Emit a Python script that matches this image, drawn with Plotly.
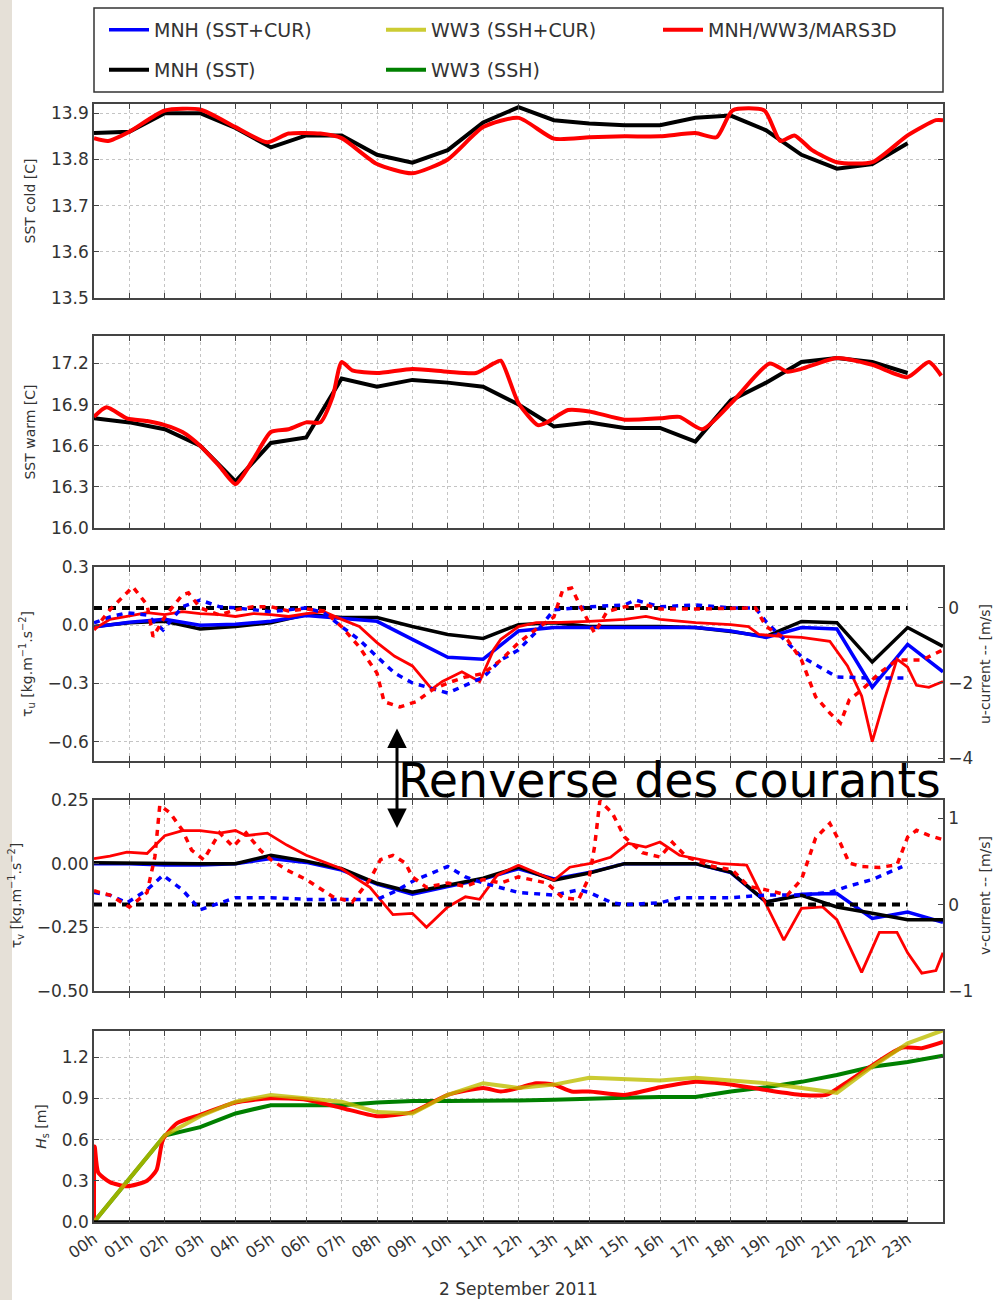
import plotly.graph_objects as go

# ------------------------------------------------------------------
# Time axis (hours of 2 September 2011)
# ------------------------------------------------------------------
hour_ticks = [0, 1, 2, 3, 4, 5, 6, 7, 8, 9, 10, 11, 12, 13, 14, 15, 16, 17, 18, 19, 20, 21, 22, 23]
hour_labels = ["00h", "01h", "02h", "03h", "04h", "05h", "06h", "07h", "08h", "09h", "10h", "11h",
               "12h", "13h", "14h", "15h", "16h", "17h", "18h", "19h", "20h", "21h", "22h", "23h"]
hours_23 = [0, 1, 2, 3, 4, 5, 6, 7, 8, 9, 10, 11, 12, 13, 14, 15, 16, 17, 18, 19, 20, 21, 22, 23]
hours_24 = [0, 1, 2, 3, 4, 5, 6, 7, 8, 9, 10, 11, 12, 13, 14, 15, 16, 17, 18, 19, 20, 21, 22, 23, 24]

# ------------------------------------------------------------------
# SST cold [C]
# ------------------------------------------------------------------
cold_mnh_sst = [13.857, 13.86, 13.90, 13.90, 13.868, 13.826, 13.852, 13.852, 13.81, 13.793, 13.82, 13.88,
                13.913, 13.885, 13.878, 13.874, 13.874, 13.89, 13.895, 13.863, 13.81, 13.78, 13.79, 13.835]
cold_coupled_h = [0, 0.4, 1, 2, 3, 4, 4.9, 5.5, 6.4, 7, 8, 9, 10, 11, 12, 13, 14, 15, 16, 17, 17.6, 18.05,
                  18.95, 19.4, 19.8, 20.3, 21, 22, 23, 23.8, 24]
cold_coupled = [13.846, 13.84, 13.86, 13.906, 13.908, 13.87, 13.837, 13.856, 13.856, 13.846, 13.79, 13.77,
                13.80, 13.87, 13.89, 13.845, 13.848, 13.85, 13.85, 13.857, 13.848, 13.906, 13.906, 13.84,
                13.852, 13.82, 13.794, 13.794, 13.852, 13.885, 13.885]

# ------------------------------------------------------------------
# SST warm [C]
# ------------------------------------------------------------------
warm_mnh_sst = [16.80, 16.77, 16.72, 16.60, 16.34, 16.62, 16.66, 17.09, 17.03, 17.08, 17.06, 17.03,
                16.90, 16.74, 16.77, 16.73, 16.73, 16.63, 16.93, 17.06, 17.21, 17.24, 17.21, 17.13]
warm_coupled_h = [0, 0.35, 0.93, 1.5, 2, 2.5, 3, 3.55, 4, 4.5, 5, 5.5, 6, 6.4, 6.75, 7, 7.3, 8, 9, 10, 10.8,
                  11.3, 11.5, 12, 12.55, 12.8, 13.4, 14, 15, 16, 16.55, 17.2, 18.05, 19.1, 19.6, 20, 21,
                  22, 23, 23.6, 23.95]
warm_coupled = [16.81, 16.88, 16.80, 16.78, 16.75, 16.70, 16.60, 16.45, 16.32, 16.50, 16.70, 16.72, 16.77,
                16.77, 16.96, 17.21, 17.15, 17.13, 17.16, 17.14, 17.13, 17.20, 17.22, 16.91, 16.75, 16.77,
                16.86, 16.85, 16.79, 16.80, 16.81, 16.72, 16.92, 17.20, 17.14, 17.16, 17.24, 17.19, 17.10,
                17.21, 17.11]

# ------------------------------------------------------------------
# Zonal wind stress tau_u [kg.m-1.s-2] and u-current [m/s]
# ------------------------------------------------------------------
tau_u_mnh_sst = [-0.007, 0.013, 0.02, -0.02, -0.007, 0.013, 0.055, 0.04, 0.04, -0.007, -0.048, -0.068, 0.003,
                 0.013, -0.007, -0.007, -0.007, -0.012, -0.032, -0.058, 0.019, 0.013, -0.19, -0.012, -0.109]
tau_u_mnh_cur = [-0.01, 0.015, 0.03, 0.0, 0.005, 0.02, 0.05, 0.035, 0.02, -0.073, -0.165, -0.175, -0.03,
                 -0.012, -0.012, -0.012, -0.012, -0.012, -0.03, -0.063, -0.012, -0.02, -0.32, -0.099, -0.24]
tau_u_coupled_h = [0, 0.45, 0.93, 1.5, 2, 2.5, 3, 3.55, 4, 4.5, 5, 5.5, 6, 6.5, 7, 7.5, 8, 8.5, 9, 9.55, 9.85,
                   10.4, 10.9, 11.3, 11.5, 12, 12.5, 13, 14, 15, 15.6, 16, 17, 18, 18.5, 18.8, 19.4, 20,
                   20.8, 21.3, 21.7, 22, 22.35, 22.7, 23, 23.25, 23.6, 24]
tau_u_coupled = [-0.02, 0.03, 0.045, 0.065, 0.055, 0.07, 0.06, 0.055, 0.045, 0.06, 0.055, 0.045, 0.06, 0.07,
                 0.03, -0.007, -0.09, -0.16, -0.21, -0.33, -0.29, -0.24, -0.29, -0.125, -0.073, -0.007,
                 0.013, 0.013, 0.02, 0.03, 0.045, 0.03, 0.013, 0.003, -0.007, -0.048, -0.058, -0.063,
                 -0.083, -0.21, -0.365, -0.60, -0.38, -0.175, -0.216, -0.31, -0.32, -0.29]

ucur_mnh_h = [0, 0.45, 0.93, 1.5, 1.95, 2.5, 3, 3.55, 4, 5, 6, 6.5, 7, 7.5, 8, 8.5, 9, 10, 11, 11.5, 12,
              12.55, 13, 14, 15, 15.3, 16, 17, 18, 18.7, 19, 20, 21, 22, 23]
ucur_mnh = [-0.4, -0.24, -0.13, -0.19, -0.59, 0.03, 0.21, 0.03, 0.0, -0.1, 0.0, -0.13, -0.5, -0.85, -1.3,
            -1.74, -2.0, -2.27, -1.85, -1.39, -1.12, -0.59, -0.05, 0.03, 0.08, 0.21, 0.03, 0.08, 0.0, 0.0,
            -0.37, -1.3, -1.84, -1.87, -1.87]
ucur_coupled_h = [0, 0.45, 1.1, 1.5, 1.67, 2, 2.5, 2.67, 3, 3.55, 4, 4.5, 5, 5.5, 6, 6.5, 7, 7.5, 8, 8.2,
                  8.65, 9.1, 9.55, 10, 10.5, 11, 11.5, 12, 12.55, 13, 13.25, 13.5, 13.8, 14.15, 14.5, 15,
                  15.6, 16, 17, 18, 18.7, 19, 19.6, 20, 20.4, 20.8, 21.1, 21.35, 21.7, 22.2, 22.7, 23,
                  23.4, 24]
ucur_coupled = [-0.59, -0.05, 0.56, 0.08, -0.77, -0.24, 0.35, 0.4, 0.0, -0.19, -0.05, 0.03, 0.03, -0.08,
                -0.03, -0.08, -0.5, -1.04, -1.74, -2.5, -2.64, -2.5, -2.19, -2.0, -1.84, -1.75, -1.39,
                -0.93, -0.53, -0.24, 0.48, 0.53, -0.05, -0.67, -0.1, 0.03, 0.08, -0.03, -0.03, 0.0, 0.0,
                -0.5, -0.85, -1.39, -2.37, -2.8, -3.07, -2.45, -2.19, -1.74, -1.39, -1.39, -1.39, -1.12]

# ------------------------------------------------------------------
# Meridional wind stress tau_v [kg.m-1.s-2] and v-current [m/s]
# ------------------------------------------------------------------
tau_v_mnh_sst = [0.004, 0.002, 0.0, 0.0, 0.0, 0.033, 0.01, -0.02, -0.077, -0.112, -0.085, -0.057, -0.014,
                 -0.065, -0.037, 0.0, 0.0, 0.0, -0.033, -0.15, -0.124, -0.17, -0.195, -0.22, -0.22]
tau_v_mnh_cur = [0.0, 0.0, -0.005, -0.005, 0.0, 0.02, 0.005, -0.025, -0.08, -0.12, -0.09, -0.06, -0.02,
                 -0.06, -0.035, 0.0, 0.0, 0.0, -0.035, -0.15, -0.12, -0.117, -0.215, -0.19, -0.23]
tau_v_coupled_h = [0, 0.45, 0.93, 1.5, 2, 2.5, 3, 3.55, 4, 4.3, 4.9, 5.45, 6, 7, 7.8, 8.45, 9, 9.4, 10, 10.5,
                   10.9, 11.4, 12, 12.5, 13, 13.45, 14, 14.6, 15.1, 15.6, 16, 16.55, 17, 17.7, 18.45, 18.8,
                   19.5, 20, 20.6, 21, 21.7, 22.2, 22.7, 23, 23.4, 23.8, 24]
tau_v_coupled = [0.02, 0.03, 0.045, 0.04, 0.11, 0.13, 0.13, 0.12, 0.13, 0.11, 0.12, 0.073, 0.033, -0.02,
                 -0.093, -0.2, -0.195, -0.25, -0.17, -0.13, -0.14, -0.045, -0.006, -0.037, -0.065, -0.014,
                 0.0, 0.025, 0.08, 0.065, 0.085, 0.033, 0.02, 0.0, -0.006, -0.104, -0.3, -0.175, -0.17,
                 -0.22, -0.427, -0.27, -0.27, -0.35, -0.43, -0.42, -0.35]

vcur_mnh_h = [0, 0.45, 0.93, 1.5, 1.95, 2.5, 3, 3.55, 4, 5, 6, 7, 8, 8.45, 9.1, 10, 10.5, 11, 11.5, 12, 13,
              13.7, 14, 14.65, 15, 16, 16.55, 17, 18, 19, 20, 20.8, 21.3, 22, 22.85]
vcur_mnh = [0.14, 0.11, 0.02, 0.17, 0.34, 0.17, -0.06, 0.02, 0.08, 0.08, 0.06, 0.06, 0.06, 0.14, 0.29, 0.44,
            0.32, 0.25, 0.2, 0.14, 0.11, 0.17, 0.14, 0.02, 0.0, 0.02, 0.08, 0.08, 0.08, 0.11, 0.11, 0.14,
            0.21, 0.29, 0.44]
vcur_coupled_h = [0, 0.45, 1.0, 1.5, 1.72, 1.86, 2.15, 2.5, 2.76, 3.1, 3.55, 3.93, 4.3, 4.7, 5, 5.45, 6,
                  6.75, 7.3, 7.8, 8.1, 8.45, 8.8, 9.0, 9.4, 10, 10.5, 11, 11.5, 12, 12.8, 13.25, 13.7, 14,
                  14.15, 14.3, 14.65, 15, 15.5, 16, 16.35, 16.75, 17.5, 18.05, 18.5, 19, 19.6, 20, 20.4,
                  20.8, 21.1, 21.35, 21.7, 22.2, 22.7, 23, 23.25, 23.6, 24]
vcur_coupled = [0.16, 0.11, -0.03, 0.14, 0.55, 1.15, 1.06, 0.86, 0.63, 0.52, 0.83, 0.67, 0.83, 0.63, 0.52,
                0.4, 0.29, 0.09, 0.03, 0.29, 0.52, 0.57, 0.48, 0.32, 0.2, 0.25, 0.21, 0.29, 0.25, 0.32,
                0.25, 0.08, 0.06, 0.32, 0.67, 1.2, 1.06, 0.78, 0.6, 0.55, 0.72, 0.55, 0.44, 0.4, 0.21,
                0.17, 0.11, 0.29, 0.77, 0.94, 0.71, 0.48, 0.44, 0.43, 0.46, 0.78, 0.86, 0.8, 0.75]

# reference level (zero current / zero wave height), drawn over 00h-23h
ref_hours = [0, 23]
ref_level = [0, 0]

# ------------------------------------------------------------------
# Significant wave height Hs [m]
# ------------------------------------------------------------------
hs_ww3_ssh = [0.0, 0.31, 0.63, 0.69, 0.79, 0.85, 0.85, 0.85, 0.87, 0.88, 0.88, 0.88, 0.885, 0.89, 0.9,
              0.905, 0.91, 0.91, 0.95, 0.98, 1.02, 1.07, 1.13, 1.165, 1.21]
hs_ww3_cur = [0.0, 0.31, 0.63, 0.77, 0.875, 0.925, 0.9, 0.875, 0.8, 0.79, 0.925, 1.01, 0.975, 1.0, 1.05,
              1.04, 1.03, 1.05, 1.03, 1.01, 0.975, 0.94, 1.13, 1.3, 1.395]
hs_coupled_h = [0, 0.02, 0.12, 0.45, 0.93, 1.5, 1.77, 1.95, 2.35, 3, 4, 5, 6, 7, 8, 9, 10, 11, 11.5, 12,
                12.5, 13, 13.5, 14, 15, 16, 17, 18, 19, 20, 20.7, 21.3, 22, 22.85, 23.4, 24]
hs_coupled = [0.0, 0.55, 0.36, 0.29, 0.26, 0.3, 0.38, 0.6, 0.72, 0.78, 0.87, 0.9, 0.89, 0.83, 0.77, 0.8,
              0.925, 0.975, 0.95, 0.975, 1.01, 1.0, 0.95, 0.95, 0.925, 0.98, 1.02, 1.0, 0.96, 0.925, 0.925,
              1.02, 1.14, 1.27, 1.265, 1.31]

# ------------------------------------------------------------------
# Styling
# ------------------------------------------------------------------
W, H = 993, 1300
FONT = "DejaVu Sans"
C_BLUE, C_BLACK, C_YELLOW, C_GREEN, C_RED = "#0000ff", "#000000", "#bfbf00", "#008000", "#ff0000"
NAMES = {
    "blue": "MNH (SST+CUR)",
    "yellow": "WW3 (SSH+CUR)",
    "red": "MNH/WW3/MARS3D",
    "black": "MNH (SST)",
    "green": "WW3 (SSH)",
}
COLORS = {"blue": C_BLUE, "yellow": C_YELLOW, "red": C_RED, "black": C_BLACK, "green": C_GREEN}
LEGEND_OF = {"blue": "legend", "yellow": "legend", "red": "legend", "black": "legend2", "green": "legend2"}
RANK = {"blue": 1, "yellow": 2, "red": 3, "black": 4, "green": 5}


def curve(x, y, xa, ya, key, width=4.0, dash=None, smooth=False, opacity=1.0, in_legend=False):
    line = dict(color=COLORS[key], width=width)
    if dash:
        line["dash"] = dash
    if smooth:
        line["shape"] = "spline"
        line["smoothing"] = 0.6
    return go.Scatter(
        x=x, y=y, xaxis=xa, yaxis=ya, mode="lines", line=line, opacity=opacity,
        name=NAMES[key], legendgroup=key, showlegend=in_legend, legend=LEGEND_OF[key],
        legendrank=RANK[key], hoverinfo="skip",
    )


fig = go.Figure()

# panel 1: SST cold
fig.add_trace(curve(hours_23, cold_mnh_sst, "x", "y", "black", in_legend=True))
fig.add_trace(curve(cold_coupled_h, cold_coupled, "x", "y", "red", smooth=True, in_legend=True))

# panel 2: SST warm
fig.add_trace(curve(hours_23, warm_mnh_sst, "x2", "y2", "black"))
fig.add_trace(curve(warm_coupled_h, warm_coupled, "x2", "y2", "red", smooth=True))

# panel 3: tau_u (left) and u-current (right, dashed)
fig.add_trace(curve(ref_hours, ref_level, "x3", "y4", "black", width=4, dash="8px,6px"))
fig.add_trace(curve(ucur_mnh_h, ucur_mnh, "x3", "y4", "blue", width=3.5, dash="6px,6px"))
fig.add_trace(curve(ucur_coupled_h, ucur_coupled, "x3", "y4", "red", width=3.5, dash="6px,6px"))
fig.add_trace(curve(hours_24, tau_u_mnh_sst, "x3", "y3", "black", width=3.5))
fig.add_trace(curve(hours_24, tau_u_mnh_cur, "x3", "y3", "blue", width=3.5, in_legend=True))
fig.add_trace(curve(tau_u_coupled_h, tau_u_coupled, "x3", "y3", "red", width=2.8))

# panel 4: tau_v (left) and v-current (right, dashed)
fig.add_trace(curve(ref_hours, ref_level, "x4", "y6", "black", width=4, dash="8px,6px"))
fig.add_trace(curve(vcur_mnh_h, vcur_mnh, "x4", "y6", "blue", width=3.5, dash="6px,6px"))
fig.add_trace(curve(vcur_coupled_h, vcur_coupled, "x4", "y6", "red", width=3.5, dash="6px,6px"))
fig.add_trace(curve(hours_24, tau_v_mnh_cur, "x4", "y5", "blue", width=3.5))
fig.add_trace(curve(hours_24, tau_v_mnh_sst, "x4", "y5", "black", width=3.5))
fig.add_trace(curve(tau_v_coupled_h, tau_v_coupled, "x4", "y5", "red", width=2.8))

# panel 5: Hs
fig.add_trace(curve(hours_24, hs_ww3_ssh, "x5", "y7", "green", in_legend=True))
fig.add_trace(curve(hs_coupled_h, hs_coupled, "x5", "y7", "red", smooth=True))
fig.add_trace(curve(hours_24, hs_ww3_cur, "x5", "y7", "yellow", opacity=0.8, in_legend=True))
fig.add_trace(curve(ref_hours, ref_level, "x5", "y7", "black", width=3.5))

# ------------------------------------------------------------------
# Layout (pixel geometry of the five stacked panels)
# ------------------------------------------------------------------
X_LEFT, X_RIGHT = 94, 943
PANELS = [(104, 298), (336, 528), (567, 761), (800, 991), (1031, 1222)]


def ydom(top, bottom):
    return [1 - bottom / H, 1 - top / H]


xdom = [X_LEFT / W, X_RIGHT / W]
tick_font = dict(family=FONT, size=17, color="#333333")
title_font = dict(family=FONT, size=14, color="#333333")
frame = dict(showline=True, linecolor="#444444", linewidth=1.5, ticks="inside", ticklen=5,
             tickcolor="#444444", zeroline=False, showgrid=True, gridcolor="#c4c4c4",
             griddash="dot", gridwidth=1, tickfont=tick_font)

y_anchor_of_x = ["y", "y2", "y3", "y5", "y7"]
for i, (top, bottom) in enumerate(PANELS):
    key = "xaxis" if i == 0 else f"xaxis{i + 1}"
    last = i == len(PANELS) - 1
    ax = dict(frame, domain=xdom, anchor=y_anchor_of_x[i], range=[0, 24], tickvals=hour_ticks,
              ticktext=hour_labels, mirror="allticks", showticklabels=last)
    if last:
        ax.update(tickangle=-35, tickfont=dict(family=FONT, size=16, color="#333333"),
                  title=dict(text="2 September 2011", font=dict(family=FONT, size=17, color="#333333"),
                             standoff=22))
    fig.layout[key] = ax

fig.layout["yaxis"] = dict(frame, domain=ydom(*PANELS[0]), anchor="x", range=[13.5, 13.92],
                           tickvals=[13.5, 13.6, 13.7, 13.8, 13.9], tickformat=".1f", mirror="allticks",
                           title=dict(text="SST cold [C]", font=title_font, standoff=12))
fig.layout["yaxis2"] = dict(frame, domain=ydom(*PANELS[1]), anchor="x2", range=[16.0, 17.4],
                            tickvals=[16.0, 16.3, 16.6, 16.9, 17.2], tickformat=".1f", mirror="allticks",
                            title=dict(text="SST warm [C]", font=title_font, standoff=12))
fig.layout["yaxis3"] = dict(frame, domain=ydom(*PANELS[2]), anchor="x3", range=[-0.7, 0.3],
                            tickvals=[-0.6, -0.3, 0.0, 0.3], tickformat=".1f", mirror=True,
                            title=dict(text="τ<sub>u</sub> [kg.m<sup>−1</sup>.s<sup>−2</sup>]",
                                       font=title_font, standoff=12))
fig.layout["yaxis4"] = dict(frame, anchor="x3", overlaying="y3", side="right", range=[-4.08, 1.09],
                            tickvals=[-4, -2, 0], showgrid=False,
                            title=dict(text="u-current -- [m/s]", font=title_font, standoff=8))
fig.layout["yaxis5"] = dict(frame, domain=ydom(*PANELS[3]), anchor="x4", range=[-0.5, 0.25],
                            tickvals=[-0.5, -0.25, 0.0, 0.25], tickformat=".2f", mirror=True,
                            title=dict(text="τ<sub>v</sub> [kg.m<sup>−1</sup>.s<sup>−2</sup>]",
                                       font=title_font, standoff=12))
fig.layout["yaxis6"] = dict(frame, anchor="x4", overlaying="y5", side="right", range=[-1.0, 1.21],
                            tickvals=[-1, 0, 1], showgrid=False,
                            title=dict(text="v-current -- [m/s]", font=title_font, standoff=8))
fig.layout["yaxis7"] = dict(frame, domain=ydom(*PANELS[4]), anchor="x5", range=[0, 1.39],
                            tickvals=[0.0, 0.3, 0.6, 0.9, 1.2], tickformat=".1f", mirror="allticks",
                            title=dict(text="<i>H</i><sub>s</sub> [m]", font=title_font, standoff=12))

legend_common = dict(orientation="h", xanchor="left", yanchor="middle", bgcolor="rgba(0,0,0,0)",
                     borderwidth=0, font=dict(family=FONT, size=19, color="#333333"),
                     entrywidth=222, entrywidthmode="pixels", itemwidth=40, traceorder="normal")
fig.update_layout(
    width=W, height=H,
    margin=dict(l=0, r=0, t=0, b=0, autoexpand=False),
    paper_bgcolor="white", plot_bgcolor="white",
    font=dict(family=FONT, color="#333333"),
    legend=dict(legend_common, x=104 / W, y=1 - 30 / H),
    legend2=dict(legend_common, x=104 / W, y=1 - 70 / H),
    shapes=[
        # slide margin on the left
        dict(type="rect", xref="paper", yref="paper", x0=0, x1=12 / W, y0=0, y1=1,
             fillcolor="#e5e0d7", line=dict(width=0), layer="below"),
        # legend frame
        dict(type="rect", xref="paper", yref="paper", x0=X_LEFT / W, x1=X_RIGHT / W,
             y0=1 - 92 / H, y1=1 - 8 / H, line=dict(color="#333333", width=1.5)),
    ],
    annotations=[
        dict(text="Renverse des courants", xref="paper", yref="paper", x=669 / W, y=1 - 780 / H,
             xanchor="center", yanchor="middle", showarrow=False,
             font=dict(family=FONT, size=47.5, color="#000000")),
        dict(text="", xref="paper", yref="paper", x=397 / W, y=1 - 828 / H, ax=0, ay=-101,
             showarrow=True, arrowside="end+start", arrowhead=2, arrowsize=1.3, arrowwidth=3,
             arrowcolor="#000000", standoff=0, startstandoff=0),
    ],
)

fig.write_html("out.html")
